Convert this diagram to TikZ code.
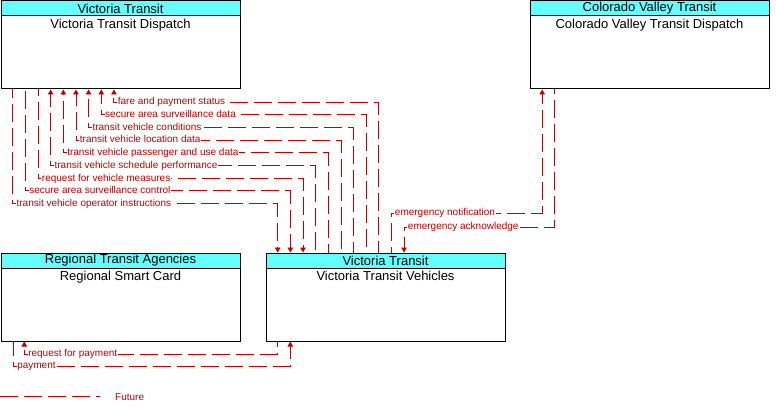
\documentclass[tikz,border=0pt]{standalone}
\usepackage{fontspec}
\setmainfont{Liberation Sans}
\usetikzlibrary{arrows.meta}
\definecolor{flowred}{RGB}{192,0,0}
\definecolor{hdrcyan}{RGB}{102,255,255}
\begin{document}
\begin{tikzpicture}[x=1pt,y=-1pt,
  box/.style={draw=black, line width=1pt, minimum width=239pt, minimum height=88pt, inner sep=0pt, anchor=north west},
  hdr/.style={draw=black, line width=1pt, fill=hdrcyan, minimum width=239pt, minimum height=15pt, inner sep=0pt, anchor=north, font=\fontsize{13}{14}\selectfont},
  ttl/.style={anchor=north, inner sep=0pt, yshift=-2.5pt, font=\fontsize{13}{14}\selectfont},
  flowline/.style={draw=flowred, line width=0.9pt, dash pattern=on 18pt off 6pt},
  startarrow/.style={{Triangle[length=5pt,width=5.5pt]}-},
  endarrow/.style={-{Triangle[length=5pt,width=5.5pt]}},
  lbl/.style={anchor=base west, xshift=3pt, yshift=-2.8pt, fill=white, inner xsep=0.5pt, inner ysep=0.8pt, text=flowred, font=\fontsize{10}{11}\selectfont}
]
\useasboundingbox (0,0) rectangle (776,409);

% boxes
\node[box] (vtd) at (0.5,0.5) {};
\node[hdr] (vtdh) at (vtd.north) {Victoria Transit};
\node[ttl] (vtdt) at (vtdh.south) {Victoria Transit Dispatch};

\node[box] (cvt) at (529.5,0.5) {};
\node[hdr] (cvth) at (cvt.north) {Colorado Valley Transit};
\node[ttl] (cvtt) at (cvth.south) {Colorado Valley Transit Dispatch};

\node[box] (rta) at (0.5,252.5) {};
\node[hdr] (rtah) at (rta.north) {Regional Transit Agencies};
\node[ttl] (rtat) at (rtah.south) {Regional Smart Card};

\node[box] (vtv) at (265.5,252.5) {};
\node[hdr] (vtvh) at (vtv.north) {Victoria Transit};
\node[ttl] (vtvt) at (vtvh.south) {Victoria Transit Vehicles};

% flows vehicles -> dispatch
\foreach \i/\k/\txt in {1/9/fare and payment status, 2/8/secure area surveillance data, 3/7/transit vehicle conditions, 4/6/transit vehicle location data, 5/5/transit vehicle passenger and use data, 6/4/transit vehicle schedule performance}{
  \pgfmathsetmacro\ox{12.66*\k-0.5}
  \pgfmathsetmacro\L{215.3-12.7*\k-88.5}
  \pgfmathsetmacro\ph{mod(28-mod(\L-5,24),24)}
  \draw[flowline, startarrow, dash phase=\ph pt] ([xshift=\ox pt]vtd.south west) -- ++(0,\L) node[lbl] (la\i) {\txt} -| ([xshift=\ox pt]vtv.north west);
}
% flows dispatch -> vehicles
\foreach \i/\k/\txt in {7/3/request for vehicle measures, 8/2/secure area surveillance control, 9/1/transit vehicle operator instructions}{
  \pgfmathsetmacro\ox{12.66*\k-0.5}
  \pgfmathsetmacro\L{215.3-12.7*\k-88.5}
  \pgfmathsetmacro\ph{mod(28-mod(\L,24),24)}
  \draw[flowline, endarrow, dash phase=\ph pt] ([xshift=\ox pt]vtd.south west) -- ++(0,\L) node[lbl] (la\i) {\txt} -| ([xshift=\ox pt]vtv.north west);
}

% emergency flows
\draw[flowline, endarrow, dash phase=12.5pt] ([xshift=125.5pt]vtv.north west) -- ++(0,-39.5) node[lbl] (len) {emergency notification} -| ([xshift=12.7pt]cvt.south west);
\draw[flowline, startarrow, dash phase=7.5pt] ([xshift=138.5pt]vtv.north west) -- ++(0,-25.5) node[lbl] (lea) {emergency acknowledge} -| ([xshift=25pt]cvt.south west);

% payment flows
\draw[flowline, startarrow, dash phase=20.5pt] ([xshift=23.8pt]rta.south west) -- ++(0,12.5) node[lbl] (lrp) {request for payment} -| ([xshift=11.8pt]vtv.south west);
\draw[flowline, endarrow, dash phase=3.5pt] ([xshift=12.8pt]rta.south west) -- ++(0,24.5) node[lbl] (lp) {payment} -| ([xshift=24.8pt]vtv.south west);

% legend
\coordinate (lg1) at (0,396.5);
\coordinate (lg2) at (100,396.5);
\draw[flowline] (lg1) -- (lg2);
\node[anchor=base west, inner sep=0pt, text=flowred, font=\fontsize{10}{11}\selectfont] (lgt) at (115,400) {Future};
\end{tikzpicture}
\end{document}
